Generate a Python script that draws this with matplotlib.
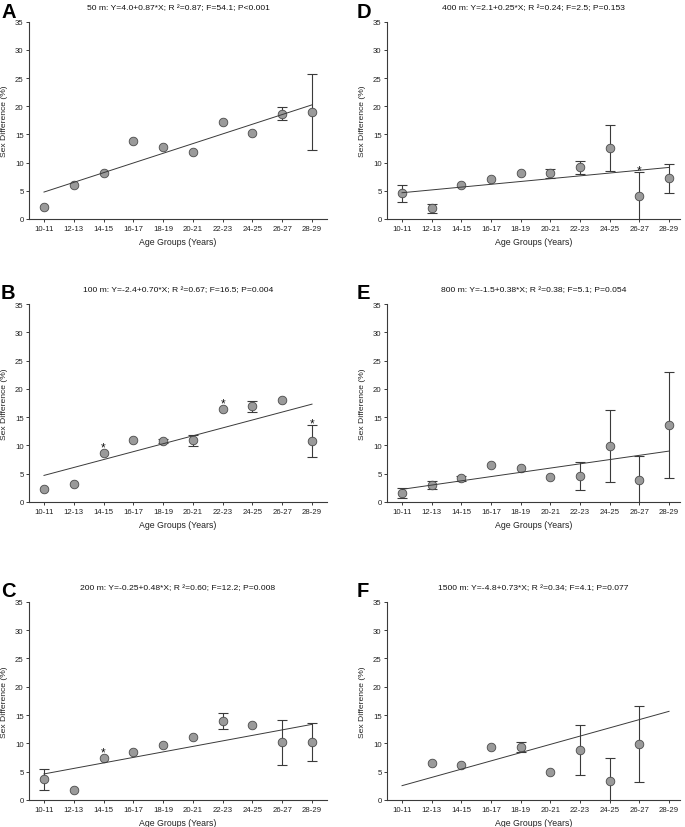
import numpy as np
import matplotlib
matplotlib.use("Agg")
import matplotlib.pyplot as plt

plt.rcParams['font.family'] = ['Liberation Sans', 'DejaVu Sans']

ages = ['10-11', '12-13', '14-15', '16-17', '18-19', '20-21', '22-23', '24-25', '26-27', '28-29']
nan = np.nan

# 50 m
vals_50 = [2.1, 6.1, 8.15, 13.8, 12.7, 11.8, 17.2, 15.2, 18.7, 19.0]
err_50 = [nan, nan, nan, nan, nan, nan, nan, nan, 1.1, 6.7]
line_50 = [4.78, 20.25]
stars_50 = []
title_50 = "50 m: Y=4.0+0.87*X; R \u00b2=0.87; F=54.1; P<0.001"

# 100 m
vals_100 = [2.35, 3.1, 8.7, 10.9, 10.8, 10.9, 16.5, 16.9, 18.1, 10.8]
err_100 = [nan, nan, nan, nan, 0.3, 0.95, nan, 0.95, nan, 2.8]
line_100 = [4.7, 17.3]
stars_100 = [2, 6, 9]
title_100 = "100 m: Y=-2.4+0.70*X; R \u00b2=0.67; F=16.5; P=0.004"

# 200 m
vals_200 = [3.65, 1.8, 7.4, 8.5, 9.7, 11.2, 13.9, 13.3, 10.2, 10.2]
err_200 = [1.9, nan, nan, nan, nan, nan, 1.4, nan, 3.95, 3.4]
line_200 = [4.6, 13.35]
stars_200 = [2]
title_200 = "200 m: Y=-0.25+0.48*X; R \u00b2=0.60; F=12.2; P=0.008"

# 400 m
vals_400 = [4.55, 1.9, 6.0, 7.1, 8.2, 8.1, 9.15, 12.6, 4.1, 7.2]
err_400 = [1.5, 0.8, nan, nan, nan, 0.85, 1.15, 4.1, 4.2, 2.6]
line_400 = [4.66, 9.15]
stars_400 = [8]
title_400 = "400 m: Y=2.1+0.25*X; R \u00b2=0.24; F=2.5; P=0.153"

# 800 m
vals_800 = [1.6, 3.06, 4.2, 6.5, 6.0, 4.4, 4.6, 9.9, 3.9, 13.6]
err_800 = [0.95, 0.7, 0.4, nan, nan, nan, 2.45, 6.35, 4.3, 9.3]
line_800 = [2.24, 9.0]
stars_800 = []
title_800 = "800 m: Y=-1.5+0.38*X; R \u00b2=0.38; F=5.1; P=0.054"

# 1500 m
vals_1500 = [nan, 6.6, 6.2, 9.4, 9.4, 4.9, 8.8, 3.3, 9.9, nan]
err_1500 = [nan, nan, nan, nan, 0.9, nan, 4.35, 4.2, 6.7, nan]
line_1500 = [2.53, 15.65]
stars_1500 = []
title_1500 = "1500 m: Y=-4.8+0.73*X; R \u00b2=0.34; F=4.1; P=0.077"

panels = [
    ('A', title_50, vals_50, err_50, line_50, stars_50),
    ('B', title_100, vals_100, err_100, line_100, stars_100),
    ('C', title_200, vals_200, err_200, line_200, stars_200),
    ('D', title_400, vals_400, err_400, line_400, stars_400),
    ('E', title_800, vals_800, err_800, line_800, stars_800),
    ('F', title_1500, vals_1500, err_1500, line_1500, stars_1500),
]

W, H = 685, 828
fig = plt.figure(figsize=(W / 100, H / 100), dpi=100)

row_px = [(22.7, 220.0), (305.0, 503.0), (602.7, 801.0)]
col_px = [(29.1, 326.9, 9.5), (387.2, 680.0, 9.37)]
letter_x = [1, 357]
letter_top = [3, 284, 582]

dark = '#3a3a3a'

for idx, (letter, title, vals, errs, line, stars) in enumerate(panels):
    col = idx // 3
    row = idx % 3
    top, bot = row_px[row]
    left, right, xmax = col_px[col]
    ax = fig.add_axes([left / W, 1 - bot / H, (right - left) / W, (bot - top) / H])
    x = np.arange(len(ages))
    v = np.array(vals, dtype=float)
    e = np.array(errs, dtype=float)

    m = ~np.isnan(e)
    ax.errorbar(x[m], v[m], yerr=e[m], fmt='none', ecolor=dark, elinewidth=0.8,
                capsize=3.5, capthick=0.8, zorder=2)
    ok = ~np.isnan(v)
    ax.plot(x[ok], v[ok], 'o', ms=6.2, mfc='#9a9a9a', mec='#4a4a4a', mew=0.6, zorder=3)
    ax.plot([x[0], x[-1]], line, '-', color=dark, lw=0.7, zorder=4)

    for s in stars:
        anchor = v[s] + 0.75 if np.isnan(e[s]) else max(v[s] + 0.75, v[s] + e[s])
        ax.annotate('*', xy=(s, anchor), xytext=(0, -1.2), textcoords='offset points',
                    ha='center', va='baseline', fontsize=8.5, color='#111111', zorder=5)

    ax.set_xlim(-0.5, xmax)
    ax.set_ylim(0, 35)
    ax.set_yticks(np.arange(0, 36, 5))
    ax.set_xticks(x)
    ax.set_xticklabels(ages)
    for sp in ['top', 'right']:
        ax.spines[sp].set_visible(False)
    for sp in ['left', 'bottom']:
        ax.spines[sp].set_color(dark)
        ax.spines[sp].set_linewidth(0.8)
    ax.tick_params(axis='both', length=2.5, width=0.7, color=dark, labelsize=5.6,
                   labelcolor='#222222', pad=1.5)
    ax.set_title(title, fontsize=6.1, pad=9, color='#111111')
    ax.set_ylabel('Sex Difference (%)', fontsize=6.1, color='#222222')
    ax.set_xlabel('Age Groups (Years)', fontsize=6.3, color='#222222')
    wpx = right - left
    hpx = bot - top
    ax.yaxis.set_label_coords(-21 / wpx, 0.5)
    ax.xaxis.set_label_coords(0.5, -18 / hpx)

    fig.text(letter_x[col] / W, 1 - letter_top[row] / H, letter, fontsize=14.5,
             fontweight='bold', ha='left', va='top', color='black')

fig.savefig('out.png', dpi=100)
